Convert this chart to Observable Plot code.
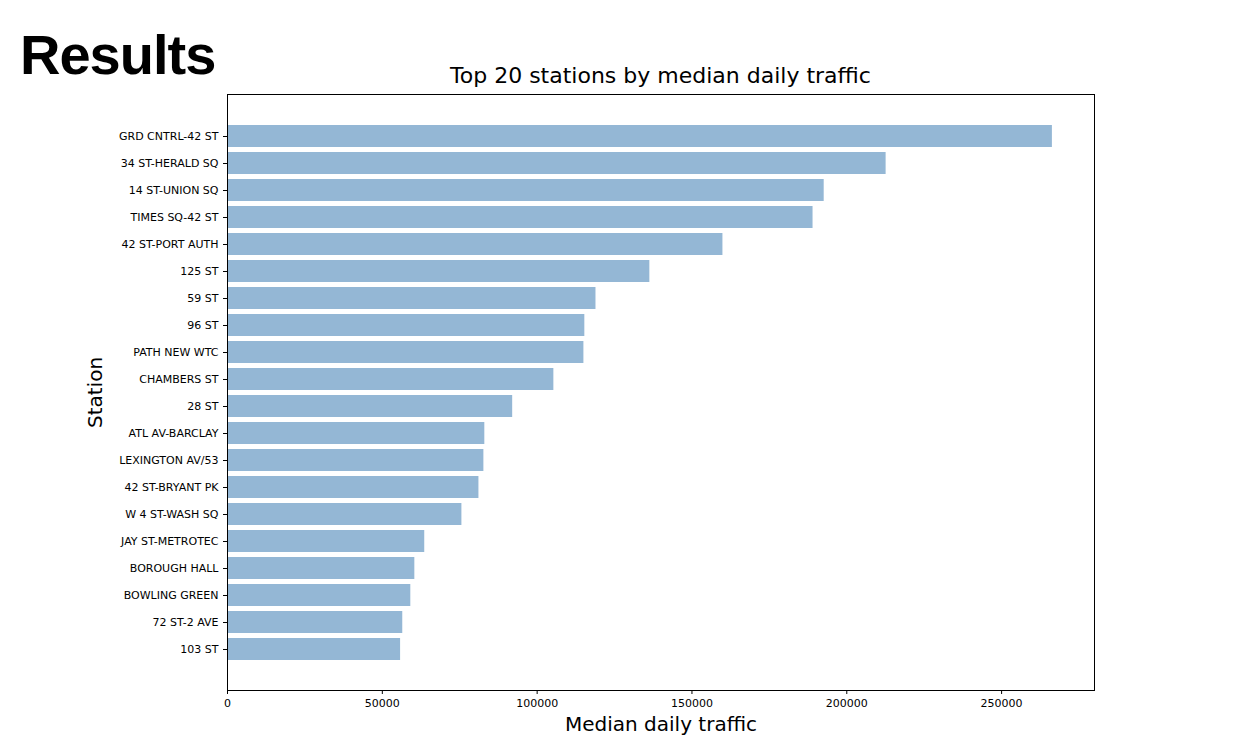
<!DOCTYPE html>
<html>
<head>
<meta charset="utf-8">
<script src="https://cdn.jsdelivr.net/npm/d3@7"></script>
<script src="https://cdn.jsdelivr.net/npm/@observablehq/plot@0.6"></script>
<style>
  body { margin: 0; background: #fff; }
  #wrap { position: relative; width: 1250px; height: 736px; }
  #results { position: absolute; left: 20px; top: 22px; font: bold 56px "Liberation Sans", Arial, sans-serif; color: #000; letter-spacing: -1px; }
  #title { position: absolute; left: 227px; width: 867px; top: 63px; text-align: center; font: 22px "DejaVu Sans", sans-serif; color: #000; }
  #chart { position: absolute; left: 0; top: 0; }
</style>
</head>
<body>
<div id="wrap">
  <div id="chart"></div>
  <div id="results">Results</div>
  <div id="title">Top 20 stations by median daily traffic</div>
</div>
<script>
const stations = [
  "GRD CNTRL-42 ST", "34 ST-HERALD SQ", "14 ST-UNION SQ", "TIMES SQ-42 ST", "42 ST-PORT AUTH",
  "125 ST", "59 ST", "96 ST", "PATH NEW WTC", "CHAMBERS ST",
  "28 ST", "ATL AV-BARCLAY", "LEXINGTON AV/53", "42 ST-BRYANT PK", "W 4 ST-WASH SQ",
  "JAY ST-METROTEC", "BOROUGH HALL", "BOWLING GREEN", "72 ST-2 AVE", "103 ST"
];
const traffic = [
  266400, 212700, 192700, 189100, 160000,
  136400, 119000, 115400, 115100, 105400,
  92100, 83100, 82800, 81200, 75700,
  63700, 60500, 59200, 56600, 55900
];
const xTicks = [0, 50000, 100000, 150000, 200000, 250000];

const data = stations.map((s, i) => ({station: s, value: traffic[i]}));

const chart = Plot.plot({
  width: 1250,
  height: 736,
  marginLeft: 227,
  marginRight: 156,
  marginTop: 94,
  marginBottom: 46,
  style: {fontFamily: "DejaVu Sans, sans-serif", fontSize: "11px", color: "#000", background: "#fff"},
  x: {
    domain: [0, 280000],
    ticks: xTicks,
    tickFormat: d => String(d),
    tickSize: 4,
    label: "Median daily traffic",
    labelAnchor: "center",
    labelArrow: "none",
    labelOffset: 40
  },
  y: {
    domain: stations,
    paddingInner: 0.2,
    paddingOuter: 0.99,
    tickSize: 4,
    label: "Station",
    labelAnchor: "center",
    labelArrow: "none",
    labelOffset: 140
  },
  marks: [
    Plot.barX(data, {x: "value", y: "station", fill: "#94b7d5"}),
    Plot.frame({stroke: "#000"})
  ]
});

// larger axis labels
d3.select(chart).selectAll("g[aria-label='x-axis label'] text, g[aria-label='y-axis label'] text")
  .style("font-size", "20px");

document.getElementById("chart").append(chart);
</script>
</body>
</html>
